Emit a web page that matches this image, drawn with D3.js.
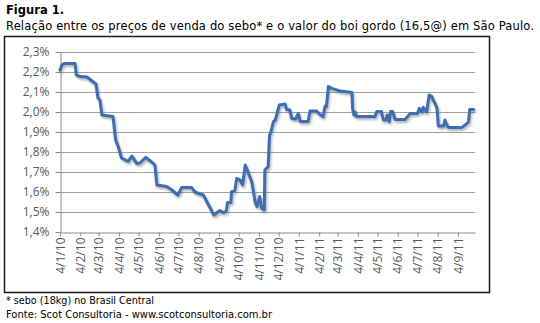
<!DOCTYPE html>
<html>
<head>
<meta charset="utf-8">
<script src="https://cdn.jsdelivr.net/npm/d3@7"></script>
<style>
  html, body { margin: 0; padding: 0; background: #fff; }
  svg { display: block; }
</style>
</head>
<body>
<div id="chart"></div>
<script>
// Relação sebo / boi gordo (%), série diária resumida
const dates = [
  "2010-01-04","2010-01-07","2010-01-11","2010-01-27","2010-01-29","2010-02-04","2010-02-14","2010-02-24",
  "2010-02-28","2010-03-03","2010-03-06","2010-03-09","2010-03-26","2010-03-30","2010-04-03","2010-04-08",
  "2010-04-18","2010-04-24","2010-05-01","2010-05-06","2010-05-15","2010-05-24","2010-05-29","2010-06-01",
  "2010-06-16","2010-06-24","2010-07-03","2010-07-09","2010-07-24","2010-07-29","2010-08-06","2010-08-11",
  "2010-08-19","2010-08-27","2010-08-31","2010-09-05","2010-09-11","2010-09-15","2010-09-17","2010-09-22",
  "2010-09-23","2010-09-28","2010-10-01","2010-10-06","2010-10-10","2010-10-14","2010-10-19","2010-10-24",
  "2010-10-29","2010-11-01","2010-11-05","2010-11-08","2010-11-12","2010-11-13","2010-11-18","2010-11-20",
  "2010-11-23","2010-11-26","2010-11-29","2010-12-05","2010-12-14","2010-12-16","2010-12-21","2010-12-24",
  "2010-12-30","2011-01-03","2011-01-06","2011-01-18","2011-01-21","2011-01-31","2011-02-06","2011-02-10",
  "2011-02-13","2011-02-15","2011-02-18","2011-02-23","2011-02-28","2011-03-08","2011-03-15","2011-03-26",
  "2011-03-27","2011-03-29","2011-03-31","2011-04-02","2011-04-30","2011-05-03","2011-05-10","2011-05-13",
  "2011-05-17","2011-05-19","2011-05-22","2011-05-24","2011-05-27","2011-05-31","2011-06-15","2011-06-23",
  "2011-07-04","2011-07-07","2011-07-11","2011-07-13","2011-07-18","2011-07-22","2011-07-26","2011-07-28",
  "2011-07-31","2011-08-03","2011-08-05","2011-08-13","2011-08-15","2011-08-18","2011-08-20","2011-09-10",
  "2011-09-15","2011-09-20","2011-09-22","2011-09-28"
];
const values = [
  2.21, 2.235, 2.243, 2.243, 2.185, 2.177, 2.175, 2.15,
  2.14, 2.07, 2.06, 1.985, 1.977, 1.86, 1.827, 1.77,
  1.753, 1.78, 1.743, 1.745, 1.773, 1.75, 1.735, 1.635,
  1.627, 1.61, 1.585, 1.623, 1.623, 1.60, 1.59, 1.585,
  1.535, 1.485, 1.495, 1.507, 1.497, 1.505, 1.547, 1.547,
  1.602, 1.607, 1.668, 1.66, 1.635, 1.735, 1.693, 1.65,
  1.552, 1.527, 1.577, 1.518, 1.51, 1.71, 1.727, 1.88,
  1.91, 1.952, 1.96, 2.035, 2.04, 2.013, 2.01, 1.968,
  1.965, 1.993, 1.952, 1.952, 2.005, 2.005, 1.985, 1.977,
  2.03, 2.027, 2.127, 2.118, 2.113, 2.105, 2.102, 2.097,
  2.018, 1.985, 2.0, 1.977, 1.977, 2.002, 2.002, 1.96,
  1.96, 1.985, 1.952, 2.002, 2.002, 1.963, 1.963, 1.993,
  1.993, 2.018, 2.0, 2.023, 2.0, 2.085, 2.077, 2.06,
  2.043, 2.018, 1.93, 1.93, 1.96, 1.935, 1.923, 1.923,
  1.935, 1.95, 2.013, 2.013
];
const xTickLabels = [
  "4/1/10","4/2/10","4/3/10","4/4/10","4/5/10","4/6/10","4/7/10","4/8/10","4/9/10","4/10/10",
  "4/11/10","4/12/10","4/1/11","4/2/11","4/3/11","4/4/11","4/5/11","4/6/11","4/7/11","4/8/11","4/9/11"
];
const yTicks = [1.4, 1.5, 1.6, 1.7, 1.8, 1.9, 2.0, 2.1, 2.2, 2.3];
const titleHead = "Figura 1.";
const titleText = "Relação entre os preços de venda do sebo* e o valor do boi gordo (16,5@) em São Paulo.";
const noteLines = ["* sebo (18kg) no Brasil Central", "Fonte: Scot Consultoria - www.scotconsultoria.com.br"];

const W = 540, H = 323;
const plot = { left: 60, right: 475, top: 52, bottom: 232 };

const parseISO = d3.timeParse("%Y-%m-%d");
const parseTick = d3.timeParse("%d/%m/%y");
const series = dates.map((d, i) => ({ date: parseISO(d), value: values[i] }));
const tickDates = xTickLabels.map(parseTick);

const x = d3.scaleTime()
  .domain([parseISO("2010-01-04"), parseISO("2011-09-30")])
  .range([plot.left, plot.right]);
const y = d3.scaleLinear().domain([1.4, 2.3]).range([plot.bottom, plot.top]);

const ptBR = d3.formatLocale({ decimal: ",", thousands: ".", grouping: [3], currency: ["R$", ""] });
const fmtPct = v => ptBR.format(".1f")(v) + "%";

const svg = d3.select("#chart").append("svg")
  .attr("width", W).attr("height", H);

svg.append("rect").attr("width", W).attr("height", H).attr("fill", "#fff");

const defs = svg.append("defs");
const shadow = defs.append("filter").attr("id", "lineShadow")
  .attr("x", "-5%").attr("y", "-10%").attr("width", "110%").attr("height", "125%");
shadow.append("feDropShadow")
  .attr("dx", 1.2).attr("dy", 2).attr("stdDeviation", 1.1)
  .attr("flood-color", "#555").attr("flood-opacity", 0.45);

// Titles
svg.append("text")
  .attr("x", 6).attr("y", 14)
  .attr("font-family", "DejaVu Sans").attr("font-weight", "bold").attr("font-size", 11.5)
  .attr("fill", "#000")
  .text(titleHead);
svg.append("text")
  .attr("x", 6).attr("y", 30)
  .attr("font-family", "DejaVu Sans").attr("font-size", 11.5)
  .attr("textLength", 528).attr("lengthAdjust", "spacing")
  .attr("fill", "#000")
  .text(titleText);

// Frame around the chart
svg.append("rect")
  .attr("x", 4.5).attr("y", 36.5).attr("width", 485).attr("height", 256)
  .attr("fill", "none").attr("stroke", "#1a1a1a").attr("stroke-width", 1.5);

// Horizontal gridlines
svg.append("g")
  .selectAll("line")
  .data(yTicks.filter(v => v > 1.4))
  .join("line")
  .attr("x1", plot.left).attr("x2", plot.right)
  .attr("y1", d => Math.round(y(d)) + 0.5).attr("y2", d => Math.round(y(d)) + 0.5)
  .attr("stroke", "#a3a3a3").attr("stroke-width", 1);

// Y axis
const yAxis = svg.append("g")
  .attr("transform", `translate(${plot.left + 0.5},0)`)
  .call(d3.axisLeft(y).tickValues(yTicks).tickFormat(fmtPct).tickSize(5).tickSizeOuter(0).tickPadding(6));
yAxis.select(".domain").attr("stroke", "#8c8c8c");
yAxis.selectAll(".tick line").attr("stroke", "#8c8c8c");
yAxis.selectAll(".tick text")
  .attr("font-family", "Open Sans").attr("font-size", 12).attr("fill", "#595959");

// X axis
const xAxis = svg.append("g")
  .attr("transform", `translate(0,${plot.bottom + 0.5})`)
  .call(d3.axisBottom(x).tickValues(tickDates).tickFormat((d, i) => xTickLabels[i]).tickSize(4).tickSizeOuter(0));
xAxis.select(".domain").attr("stroke", "#8c8c8c");
xAxis.selectAll(".tick line").attr("stroke", "#8c8c8c");
xAxis.selectAll(".tick text")
  .attr("font-family", "Open Sans").attr("font-size", 12).attr("fill", "#595959")
  .attr("transform", "rotate(-90)")
  .attr("text-anchor", "end")
  .attr("x", -5).attr("y", 0).attr("dy", "0.35em");

// Series line
const line = d3.line().x(d => x(d.date)).y(d => y(d.value)).curve(d3.curveLinear);
svg.append("path")
  .datum(series)
  .attr("d", line)
  .attr("fill", "none")
  .attr("stroke", "#3c6db3")
  .attr("stroke-width", 3)
  .attr("stroke-linejoin", "round")
  .attr("stroke-linecap", "round")
  .attr("filter", "url(#lineShadow)");

// Notes below the frame
svg.append("g")
  .selectAll("text")
  .data(noteLines)
  .join("text")
  .attr("x", 6).attr("y", (d, i) => 304 + i * 14)
  .attr("font-family", "DejaVu Sans").attr("font-size", 10)
  .attr("textLength", (d, i) => i === 0 ? 148 : 266).attr("lengthAdjust", "spacingAndGlyphs")
  .attr("fill", "#000")
  .text(d => d);
</script>
</body>
</html>
